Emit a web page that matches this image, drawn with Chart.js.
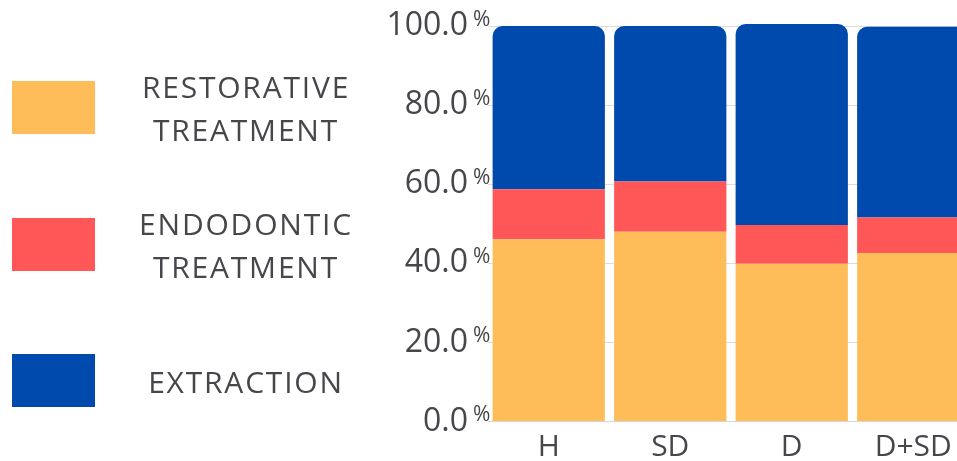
<!DOCTYPE html>
<html>
<head>
<meta charset="utf-8">
<script src="https://cdn.jsdelivr.net/npm/chart.js@4"></script>
<style>
    html, body { margin: 0; padding: 0; overflow: hidden; background: #fff; }
    #wrap { position: relative; width: 957px; height: 461px; overflow: hidden; }
    #chart { position: absolute; left: 0; top: 0; }
    .legend-item { position: absolute; left: 12px; width: 340px; height: 54px; }
    .legend-box { position: absolute; left: 0; top: 0; width: 83px; height: 53px; }
    .legend-text {
        position: absolute; left: 84px; width: 300px; top: 50%; transform: translateY(-50%);
        text-align: center; font-family: "Open Sans", sans-serif; font-size: 30px;
        letter-spacing: 1.8px; line-height: 43px; color: #48464b;
    }
</style>
</head>
<body>
<div id="wrap">
    <canvas id="chart" width="974" height="461"></canvas>
</div>
<script>
// Data (percent of each group)
const groups = ['H', 'SD', 'D', 'D+SD'];
const seriesNames = [['RESTORATIVE', 'TREATMENT'], ['ENDODONTIC', 'TREATMENT'], ['EXTRACTION']];
const restorative = [46.1, 48.0, 39.9, 42.6];
const endodontic = [12.6, 12.7, 9.8, 9.0];
const extraction = [41.3, 39.3, 50.8, 48.2];
const yTicks = [0, 20, 40, 60, 80, 100];

const COLORS = ['#FFBD59', '#FF5757', '#004AAD'];
const TEXT = '#48464b';

// Legend on the left (HTML, built from the series names)
const legendTops = [81, 218, 354];
const wrap = document.getElementById('wrap');
seriesNames.forEach((lines, i) => {
    const item = document.createElement('div');
    item.className = 'legend-item';
    item.style.top = legendTops[i] + 'px';
    item.innerHTML = `<div class="legend-box" style="background:${COLORS[i]}"></div>
      <div class="legend-text">${lines.join('<br>')}</div>`;
    wrap.appendChild(item);
});

// small raised "%" after each y tick label
const percentSign = {
    id: 'percentSign',
    afterDraw(chart) {
        const ctx = chart.ctx;
        const y = chart.scales.y;
        ctx.save();
        ctx.font = '21px "Open Sans", sans-serif';
        ctx.fillStyle = TEXT;
        ctx.textAlign = 'left';
        ctx.textBaseline = 'middle';
        yTicks.forEach(t => {
            ctx.fillText('%', 473, y.getPixelForValue(t) - 6);
        });
        ctx.restore();
    }
};

const ctx = document.getElementById('chart');
new Chart(ctx, {
    type: 'bar',
    data: {
        labels: groups,
        datasets: [
            { label: 'Restorative treatment', data: restorative, backgroundColor: COLORS[0], borderRadius: 0 },
            { label: 'Endodontic treatment', data: endodontic, backgroundColor: COLORS[1], borderRadius: 0 },
            {
                label: 'Extraction', data: extraction, backgroundColor: COLORS[2],
                borderRadius: { topLeft: 10, topRight: 10, bottomLeft: 0, bottomRight: 0 },
                borderSkipped: 'bottom'
            }
        ]
    },
    options: {
        responsive: false,
        animation: false,
        categoryPercentage: 1,
        barPercentage: 0.924,
        clip: false,
        layout: { padding: { top: 26, left: 0, right: 0, bottom: 0 } },
        plugins: { legend: { display: false }, tooltip: { enabled: false } },
        scales: {
            x: {
                stacked: true,
                grid: { display: false, drawTicks: false },
                border: { display: true, color: '#d6d6d6' },
                ticks: { color: TEXT, font: { family: 'Open Sans', size: 30 }, padding: 8 },
                afterFit: s => { s.height = 39.5; s.paddingLeft = 0; s.paddingRight = 0; }
            },
            y: {
                stacked: true,
                min: 0,
                max: 100,
                afterBuildTicks: s => { s.ticks = yTicks.map(v => ({ value: v })); },
                grid: { color: '#dcdcdc', drawTicks: false },
                border: { display: false },
                ticks: {
                    color: TEXT,
                    font: { family: 'Open Sans', size: 32 },
                    padding: 20,
                    callback: v => v.toFixed(1)
                },
                afterFit: s => { s.width = 488; s.paddingTop = 0; s.paddingBottom = 0; }
            }
        }
    },
    plugins: [percentSign]
});
</script>
</body>
</html>
